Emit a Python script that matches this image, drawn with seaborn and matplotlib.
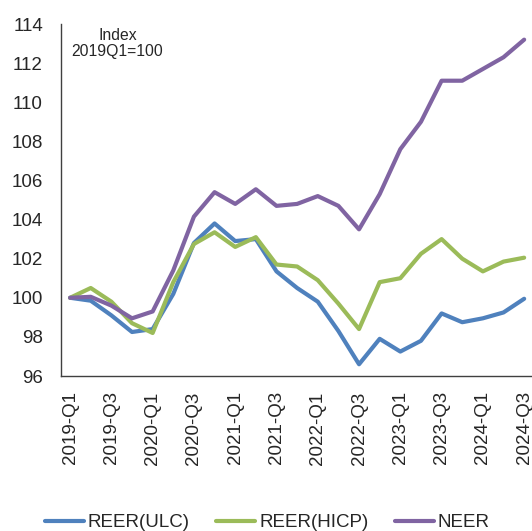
import pandas as pd
import numpy as np
import matplotlib
matplotlib.use("Agg")
import matplotlib.pyplot as plt
import seaborn as sns

quarters = [f"{y}-Q{q}" for y in range(2019, 2025) for q in range(1, 5)][:23]

reer_ulc = [100.0, 99.85, 99.1, 98.25, 98.4, 100.2, 102.8, 103.8, 102.9, 103.0,
            101.35, 100.5, 99.8, 98.3, 96.6, 97.9, 97.25, 97.8, 99.2, 98.75,
            98.95, 99.25, 99.95]
reer_hicp = [100.0, 100.5, 99.8, 98.7, 98.2, 100.8, 102.75, 103.35, 102.6, 103.1,
             101.7, 101.6, 100.9, 99.7, 98.4, 100.8, 101.0, 102.25, 103.0, 102.0,
             101.35, 101.85, 102.05]
neer = [100.0, 100.05, 99.6, 98.95, 99.3, 101.4, 104.15, 105.4, 104.8, 105.55,
        104.7, 104.8, 105.2, 104.7, 103.5, 105.3, 107.6, 109.0, 111.1, 111.1,
        111.7, 112.3, 113.2]

series_names = ["REER(ULC)", "REER(HICP)", "NEER"]
colors = ["#4F81BD", "#9BBB59", "#8064A2"]

df = pd.DataFrame({"Quarter": quarters, "idx": range(len(quarters)),
                   "REER(ULC)": reer_ulc, "REER(HICP)": reer_hicp, "NEER": neer})
long_df = df.melt(id_vars=["Quarter", "idx"], value_vars=series_names,
                  var_name="Series", value_name="Index")

sns.set_style("white")
plt.rcParams['font.family'] = ['Liberation Sans', 'DejaVu Sans']

fig = plt.figure(figsize=(5.32, 5.31), dpi=100)
ax = fig.add_axes([0.1147, 0.2919, 0.8853, 0.6629])

sns.lineplot(data=long_df, x="idx", y="Index", hue="Series", hue_order=series_names,
             palette=colors, linewidth=3.0, sort=False, ax=ax, legend=False)

ax.set_xlim(-0.44, 22.38)
ax.set_ylim(96, 114)
ax.set_yticks(np.arange(96, 115, 2))
ax.set_xticks(df["idx"][::2])
ax.set_xticklabels(df["Quarter"][::2], rotation=90)
ax.tick_params(axis="both", length=0, labelsize=13.5)
ax.tick_params(axis="x", pad=11)
ax.tick_params(axis="y", pad=13)
ax.set_xlabel("")
ax.set_ylabel("")
for s in ["top", "right"]:
    ax.spines[s].set_visible(False)
for s in ["left", "bottom"]:
    ax.spines[s].set_color("#404040")
    ax.spines[s].set_linewidth(1.0)

ax.text(0.12, 0.99, "Index\n2019Q1=100", transform=ax.transAxes, ha="center",
        va="top", fontsize=11.3, linespacing=1.15)

handles = [plt.Line2D([], [], color=c, linewidth=3.0) for c in colors]
fig.legend(handles, series_names, loc="center", bbox_to_anchor=(0.502, 0.016),
           ncol=3, frameon=False, fontsize=13.5, handlelength=2.1,
           handletextpad=0.2, columnspacing=1.4, borderaxespad=0)

fig.savefig("out.png", dpi=100)
